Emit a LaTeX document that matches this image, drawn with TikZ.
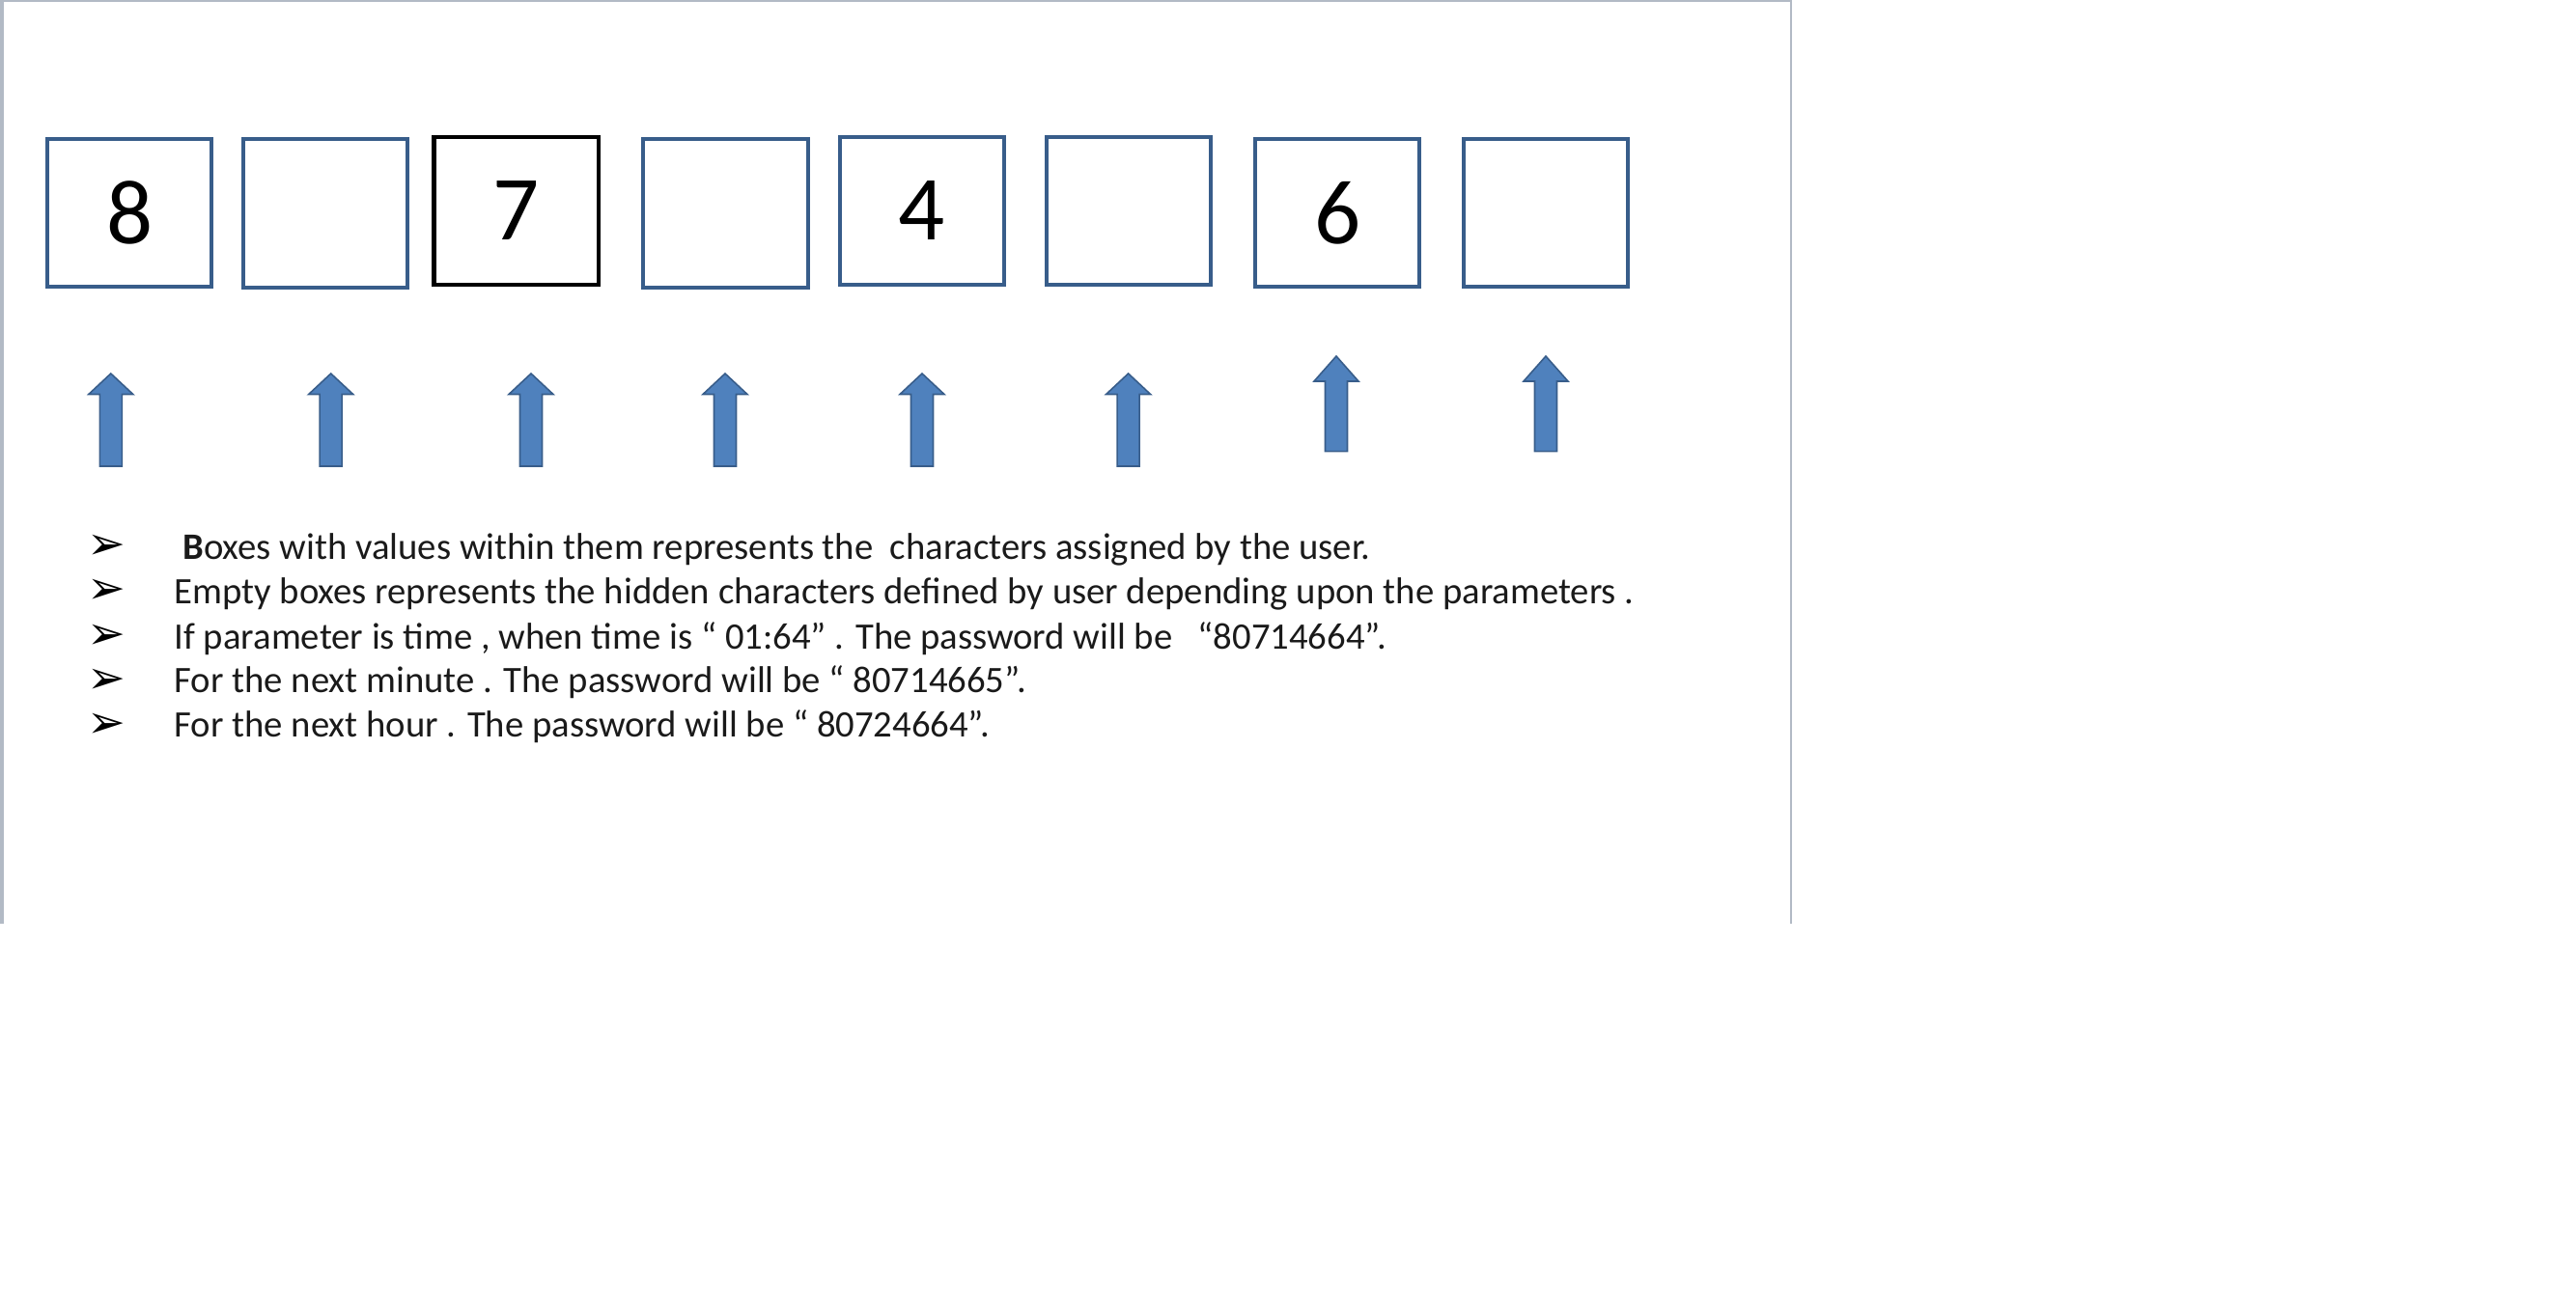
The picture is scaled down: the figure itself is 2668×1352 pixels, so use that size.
\documentclass[tikz,border=0pt]{standalone}
\usepackage{fontspec}
\setmainfont{Carlito}
\newfontfamily\bulletfont{DejaVu Sans}
\definecolor{boxblue}{HTML}{385D8A}
\definecolor{arrowfill}{HTML}{4F81BD}
\definecolor{framegrey}{HTML}{B2BAC5}
\definecolor{textgrey}{HTML}{1A1A1A}
\newcommand\blockup[4]{% x, tip y, head base y, bottom y
  \draw[uparrowshape] ({#1-11.5},#4) -- ({#1-11.5},#3) -- ({#1-23},#3) -- (#1,#2)
    -- ({#1+23},#3) -- ({#1+11.5},#3) -- ({#1+11.5},#4) -- cycle;}
\begin{document}
\begin{tikzpicture}[x=0.01cm,y=-0.01cm,
  cell/.style={draw=boxblue, line width=1.15pt, minimum width=1.70cm,
    minimum height=1.53cm, inner sep=0pt, font=\fontsize{27pt}{30pt}\selectfont},
  blackcell/.style={cell, draw=black, line width=1.3pt},
  uparrowshape/.style={fill=arrowfill, draw=boxblue, line width=0.45pt, line join=miter},
  txt/.style={anchor=base west, inner sep=0pt, text=textgrey,
    font=\fontsize{11pt}{13pt}\selectfont},
  bul/.style={anchor=base west, inner sep=0pt, text=black,
    font=\bulletfont\fontsize{13.5pt}{15pt}\selectfont},
  frameline/.style={draw=framegrey, line width=0.6pt}]
\useasboundingbox (0,0) rectangle (2668,1352);
% frame
\draw[frameline, line width=0.9pt] (2,957) -- (2,0);
\draw[frameline] (0,1) -- (1855,1) -- (1855,957);
% boxes
\node[cell] (b1) at (134.2,220.9) {8};
\node[cell] (b2) at (337,221) {};
\node[blackcell] (b3) at (534.8,218.4) {7};
\node[cell] (b4) at (751.5,221) {};
\node[cell] (b5) at (955,218.4) {4};
\node[cell] (b6) at (1168.9,218.4) {};
\node[cell] (b7) at (1385.3,220.9) {6};
\node[cell] (b8) at (1601,220.5) {};
% arrows
\blockup{114.8}{387}{408.5}{483}
\blockup{342.7}{387}{408.5}{483}
\blockup{550}{387}{408.5}{483}
\blockup{751}{387}{408.5}{483}
\blockup{955}{387}{408.5}{483}
\blockup{1168.6}{387}{408.5}{483}
\blockup{1384}{369}{395}{467.7}
\blockup{1601}{369}{395}{467.7}
% bullets
\node[bul] (p1) at (90,580) {➢};
\node[bul] (p2) at (90,626) {➢};
\node[bul] (p3) at (90,672.5) {➢};
\node[bul] (p4) at (90,718.5) {➢};
\node[bul] (p5) at (90,764.5) {➢};
% text
\node[txt] (t1) at (180,580) {\hspace*{0.23em}\textbf{B}oxes with values within them represents the\ \ characters assigned by the user.};
\node[txt] (t2) at (180,626) {Empty boxes represents the hidden characters defined by user depending upon the parameters .};
\node[txt] (t3) at (180,672.5) {If parameter is time , when time is “ 01:64” . The password will be\ \ \ “80714664”.};
\node[txt] (t4) at (180,718) {For the next minute . The password will be “ 80714665”.};
\node[txt] (t5) at (180,764) {For the next hour . The password will be “ 80724664”.};
\end{tikzpicture}
\end{document}
